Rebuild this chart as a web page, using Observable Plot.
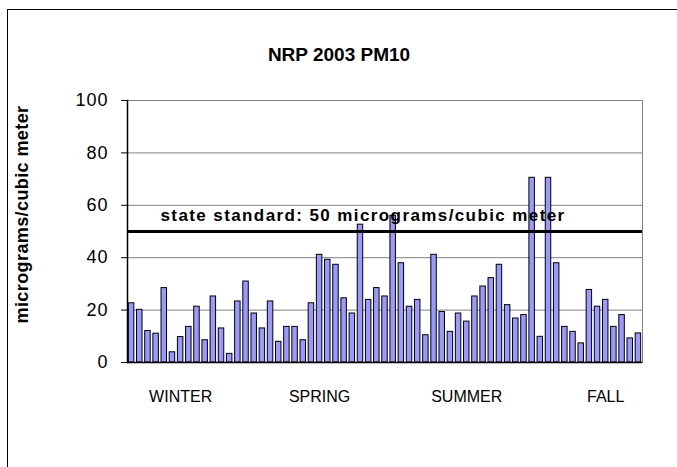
<!DOCTYPE html>
<html>
<head>
<meta charset="utf-8">
<script src="https://cdn.jsdelivr.net/npm/d3@7"></script>
<script src="https://cdn.jsdelivr.net/npm/@observablehq/plot@0.6"></script>
<style>
  html, body { margin: 0; padding: 0; background: #fff; }
  #wrap { position: relative; width: 677px; height: 467px; overflow: hidden; background: #fff; }
  #border { position: absolute; left: 7px; top: 9px; width: 720px; height: 520px; border: 1.5px solid #000; box-sizing: border-box; }
  #chart { position: absolute; left: 0; top: 0; }
</style>
</head>
<body>
<div id="wrap"><div id="border"></div><div id="chart"></div></div>
<script>
const title = "NRP 2003 PM10";
const yLabel = "micrograms/cubic meter";
const standardLabel = "state standard: 50 micrograms/cubic meter";
const standardValue = 50;
const pm10 = [22.6, 20.1, 12, 11, 28.4, 3.9, 9.7, 13.6, 21.3, 8.5, 25.2, 13, 3.3, 23.3, 30.9, 18.7, 13, 23.3, 7.9, 13.6,
  13.6, 8.5, 22.6, 41.1, 39.2, 37.3, 24.5, 18.7, 52.6, 23.9, 28.4, 25.2, 56, 37.9, 21.3, 23.9, 10.4, 41.1, 19.3, 11.7,
  18.7, 15.6, 25.2, 29, 32.2, 37.3, 21.9, 16.8, 18.1, 70.5, 9.8, 70.5, 37.9, 13.6, 11.7, 7.3, 27.7, 21.3, 23.9, 13.6,
  18.1, 9.2, 11.1];
const seasonNames = ["WINTER", "SPRING", "SUMMER", "FALL"];
const seasonIndex = [6, 23, 41, 58];
const yTicks = [0, 20, 40, 60, 80, 100];

const data = pm10.map((v, i) => ({i, v}));
const font = "'Liberation Sans', Arial, sans-serif";

const chart = Plot.plot({
  width: 677,
  height: 467,
  marginLeft: 127,
  marginRight: 35,
  marginTop: 100,
  marginBottom: 105,
  style: {fontFamily: font, background: "transparent", color: "#000"},
  x: {type: "band", domain: d3.range(pm10.length), paddingInner: 0.33, paddingOuter: 0.165, round: false, axis: null},
  y: {domain: [0, 100], axis: null},
  marks: [
    Plot.gridY(yTicks, {stroke: "#808080", strokeOpacity: 1, strokeWidth: 1}),
    Plot.frame({anchor: "right", stroke: "#808080"}),
    Plot.barY(data, {x: "i", y: "v", fill: "#9999FF", stroke: "#000", strokeWidth: 1}),
    Plot.ruleY([0], {stroke: "#000", strokeWidth: 1.5}),
    Plot.frame({anchor: "left", stroke: "#000", strokeWidth: 1.5}),
    Plot.axisY(yTicks, {tickSize: 6, tickPadding: 13, fontSize: 18, tickFormat: d => String(d), stroke: "#000", label: null}),
    Plot.axisX(seasonIndex, {tickSize: 0, tickPadding: 28, fontSize: 16, tickFormat: d => seasonNames[seasonIndex.indexOf(d)], label: null}),
    Plot.ruleY([standardValue], {stroke: "#000", strokeWidth: 3}),
    Plot.text([standardLabel], {frameAnchor: "left", y: () => standardValue, text: d => d, textAnchor: "start", dx: 33, dy: -16, fontSize: 17, fontWeight: "bold", fill: "#000"}),
    Plot.text([title], {frameAnchor: "top", text: d => d, dx: -46, dy: -53, fontSize: 19, fontWeight: "bold", fill: "#000"}),
    Plot.text([yLabel], {frameAnchor: "left", text: d => d, rotate: -90, textAnchor: "middle", dx: -105, dy: -17, fontSize: 18, fontWeight: "bold", fill: "#000"})
  ]
});
// letter spacing tweaks to mimic the original rendering
d3.select(chart).selectAll("text").each(function() {
  const t = this.textContent;
  if (t === standardLabel) this.style.letterSpacing = "1.4px";
  else if (t === yLabel) this.style.letterSpacing = "0.4px";
  else if (yTicks.map(String).includes(t)) this.style.letterSpacing = "1px";
});
document.getElementById("chart").appendChild(chart);
</script>
</body>
</html>
